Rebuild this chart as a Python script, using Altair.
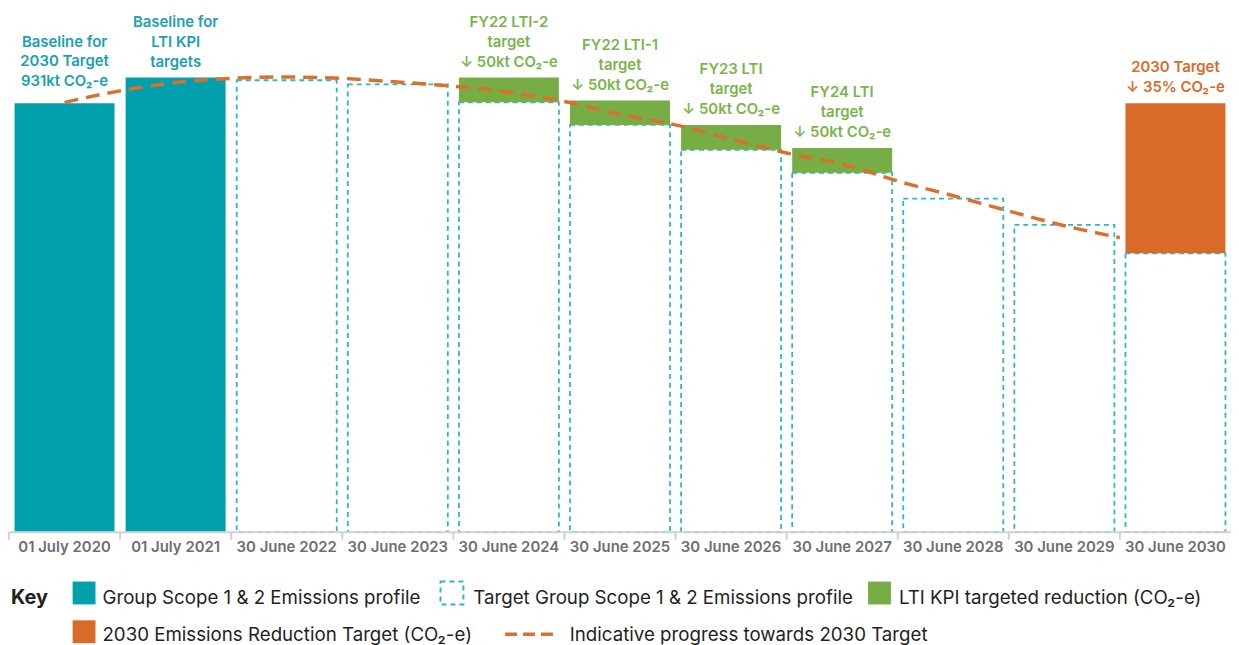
import altair as alt
import pandas as pd

FONT = "Inter"
TEAL = "#00A0AC"
TEAL_TEXT = "#1AA1AE"
TEAL_DASH = "#2DB7C6"
GREEN = "#77AD45"
GREEN_TEXT = "#7AB54A"
ORANGE = "#D96B29"
LINE_ORANGE = "#DA6F2E"
GREY = "#6D6E71"
INK = "#231F20"

W, H = 1229, 525

categories = ["01 July 2020", "01 July 2021", "30 June 2022", "30 June 2023",
              "30 June 2024", "30 June 2025", "30 June 2026", "30 June 2027",
              "30 June 2028", "30 June 2029", "30 June 2030"]

# Group Scope 1 & 2 emissions profile (kt CO2-e)
profile_cats = ["01 July 2020", "01 July 2021"]
profile_vals = [931, 987]

# Target Group Scope 1 & 2 emissions profile (kt CO2-e)
target_cats = ["30 June 2022", "30 June 2023", "30 June 2024", "30 June 2025",
               "30 June 2026", "30 June 2027", "30 June 2028", "30 June 2029",
               "30 June 2030"]
target_vals = [981, 972, 933, 884, 830, 780, 724, 667, 605]

# LTI KPI targeted reductions
lti_cats = ["30 June 2024", "30 June 2025", "30 June 2026", "30 June 2027"]
lti_low = [933, 884, 830, 780]
lti_high = [987, 937, 884, 834]

# 2030 emissions reduction target
t2030_cats = ["30 June 2030"]
t2030_low = [605]
t2030_high = [931]

# Annotations
label_cats = ["01 July 2020", "01 July 2021", "30 June 2024", "30 June 2025",
              "30 June 2026", "30 June 2027", "30 June 2030"]
label_tops = [931, 987, 987, 937, 884, 834, 931]
label_lines = [
    ["Baseline for", "2030 Target", "931kt CO₂-e"],
    ["Baseline for", "LTI KPI", "targets"],
    ["FY22 LTI-2", "target", "↓ 50kt CO₂-e"],
    ["FY22 LTI-1", "target", "↓ 50kt CO₂-e"],
    ["FY23 LTI", "target", "↓ 50kt CO₂-e"],
    ["FY24 LTI", "target", "↓ 50kt CO₂-e"],
    ["2030 Target", "↓ 35% CO₂-e"],
]
label_colors = [TEAL_TEXT, TEAL_TEXT, GREEN_TEXT, GREEN_TEXT, GREEN_TEXT,
                GREEN_TEXT, ORANGE]

# Indicative progress line (position in category steps, kt CO2-e)
progress_pos = [0.5, 1.0, 1.5, 2.0, 2.5, 3.0, 3.5, 4.0, 4.5, 5.0, 5.5, 6.0,
                6.5, 7.0, 7.5, 8.0, 8.5, 9.0, 9.5, 10.0]
progress_vals = [933, 958, 976, 985, 988, 985, 977, 968, 955, 935, 907, 884,
                 853, 823, 799, 762, 730, 697, 665, 639]

boundaries = list(range(len(categories)))

yscale = alt.Scale(domain=[0, 1134], nice=False, zero=True)
xband = alt.Scale(domain=categories, paddingInner=0.1, paddingOuter=0.05)

x_axis = alt.X("cat:N", sort=categories, scale=xband, title=None,
               axis=alt.Axis(labelFont=FONT, labelFontSize=15, labelFontWeight=600,
                             labelColor=GREY, ticks=False, domainColor="#D2D2D2",
                             domainWidth=2, labelPadding=8, labelAngle=0, zindex=1))

target_df = pd.DataFrame({"cat": target_cats, "top": target_vals})
profile_df = pd.DataFrame({"cat": profile_cats, "top": profile_vals})
lti_df = pd.DataFrame({"cat": lti_cats, "low": lti_low, "high": lti_high})
t2030_df = pd.DataFrame({"cat": t2030_cats, "low": t2030_low, "high": t2030_high})
label_df = pd.DataFrame({"cat": label_cats, "top": label_tops,
                         "lines": label_lines, "color": label_colors,
                         "n": [len(l) for l in label_lines]})
line_df = pd.DataFrame({"u": progress_pos, "v": progress_vals})
tick_df = pd.DataFrame({"u": boundaries})

targets = alt.Chart(target_df).mark_bar(
    fill="white", fillOpacity=0, stroke=TEAL_DASH, strokeWidth=1.8, strokeDash=[5, 4]
).encode(x=x_axis, y=alt.Y("top:Q", scale=yscale, axis=None))

profile = alt.Chart(profile_df).mark_bar(color=TEAL).encode(
    x=x_axis, y=alt.Y("top:Q", scale=yscale, axis=None))

lti = alt.Chart(lti_df).mark_bar(color=GREEN).encode(
    x=x_axis, y=alt.Y("low:Q", scale=yscale, axis=None), y2="high:Q")

t2030 = alt.Chart(t2030_df).mark_bar(color=ORANGE).encode(
    x=x_axis, y=alt.Y("low:Q", scale=yscale, axis=None), y2="high:Q")


def label_layer(test, nlines, gap):
    return alt.Chart(label_df).transform_filter(test).mark_text(
        baseline="alphabetic", dy=-gap - 20 * (nlines - 1), font=FONT, fontSize=15,
        fontWeight=600, lineHeight=20
    ).encode(x=x_axis, y=alt.Y("top:Q", scale=yscale, axis=None),
             text="lines", color=alt.Color("color:N", scale=None))


first_cat = categories[0]
labels_first = label_layer(alt.datum.cat == first_cat, 3, 17)
labels_three = label_layer((alt.datum.n == 3) & (alt.datum.cat != first_cat), 3, 11)
labels_two = label_layer(alt.datum.n == 2, 2, 11)

uscale = alt.Scale(domain=[0, len(categories)], nice=False, zero=False)

progress = alt.Chart(line_df).mark_line(
    color=LINE_ORANGE, strokeWidth=3.5, strokeDash=[14, 8], interpolate="monotone"
).encode(x=alt.X("u:Q", scale=uscale, axis=None),
         y=alt.Y("v:Q", scale=yscale, axis=None))

ticks = alt.Chart(tick_df).mark_rule(color="#D2D2D2", strokeWidth=2).encode(
    x=alt.X("u:Q", scale=uscale, axis=None), y=alt.value(H), y2=alt.value(H + 8))

band_group = alt.layer(targets, profile, lti, t2030, labels_first, labels_three,
                       labels_two)
quant_group = alt.layer(progress, ticks)


def legend_text(label, x, y, bold=False, size=18.8):
    return alt.Chart(pd.DataFrame({"t": [label]})).mark_text(
        align="left", baseline="alphabetic", font=FONT, fontSize=size,
        fontWeight=700 if bold else 400, color=INK
    ).encode(x=alt.value(x), y=alt.value(y), text="t:N")


def legend_square(color, x, y, dashed=False):
    d = pd.DataFrame({"t": ["s"]})
    if dashed:
        m = alt.Chart(d).mark_rect(fill="white", fillOpacity=0, stroke=TEAL_DASH,
                                   strokeWidth=2, strokeDash=[5, 4])
    else:
        m = alt.Chart(d).mark_rect(color=color)
    return m.encode(x=alt.value(x), x2=alt.value(x + 23),
                    y=alt.value(y), y2=alt.value(y + 23))


def legend_dash(x, y):
    return alt.Chart(pd.DataFrame({"t": ["l"]})).mark_rule(
        color=LINE_ORANGE, strokeWidth=3.5, strokeDash=[12, 6]
    ).encode(x=alt.value(x), x2=alt.value(x + 48), y=alt.value(y))


b1, b2 = 598, 635   # text baselines
s1, s2 = 575, 614   # square tops
legend_layers = [
    legend_text("Key", 2, b1, bold=True, size=20),
    legend_square(TEAL, 64, s1),
    legend_text("Group Scope 1 & 2 Emissions profile", 94, b1),
    legend_square(TEAL_DASH, 434, s1, dashed=True),
    legend_text("Target Group Scope 1 & 2 Emissions profile", 467, b1),
    legend_square(GREEN, 864, s1),
    legend_text("LTI KPI targeted reduction (CO₂-e)", 895, b1),
    legend_square(ORANGE, 64, s2),
    legend_text("2030 Emissions Reduction Target (CO₂-e)", 94, b2),
    legend_dash(499, b2 - 7),
    legend_text("Indicative progress towards 2030 Target", 564, b2),
]

chart = alt.layer(band_group, quant_group, *legend_layers).resolve_scale(
    x="independent"
).properties(width=W, height=H, padding=0).configure_view(stroke=None)

chart.save("out.html", embed_options={"renderer": "svg", "actions": False})
